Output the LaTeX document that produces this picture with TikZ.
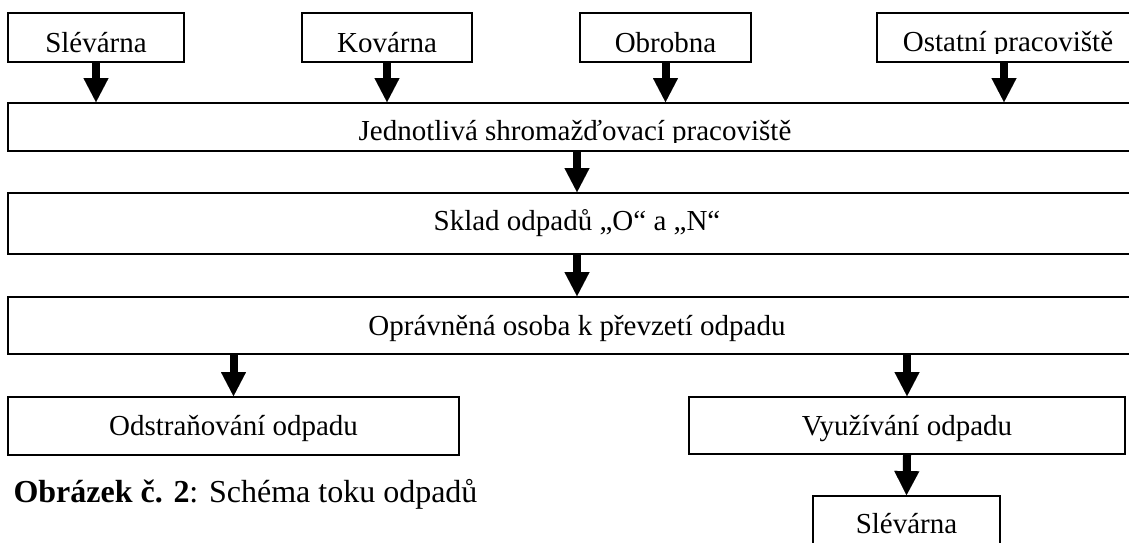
\documentclass[tikz,border=0pt]{standalone}
\usepackage{fontspec}
\setmainfont{Liberation Serif}
\usetikzlibrary{arrows.meta}
\tikzset{
	txt/.style={font=\fontsize{29}{32}\selectfont},
	box/.style={draw, line width=1.8pt, inner sep=0pt, txt, text height=20pt, text depth=1pt},
	toprow/.style={box, minimum height=49pt, text height=30pt, text depth=1pt},
	widebox/.style={box, minimum width=1138pt},
	flow/.style={line width=8pt, -{Triangle[width=25pt,length=24pt,line width=0.01pt]}},
}

\begin{document}
\begin{tikzpicture}[x=1pt,y=-1pt]
			%%%%% START %%%%%
			\clip (0,0) rectangle (1129,542);
			
			% horni rada pracovist
			\node[toprow, minimum width=176pt] (sle) at (96,37.5) {Slévárna};
			\node[toprow, minimum width=170pt] (kov) at (387,37.5) {Kovárna};
			\node[toprow, minimum width=171pt] (obr) at (665.5,37.5) {Obrobna};
			\node[toprow, minimum width=254pt] (ost) at (1004,37.5) {};
			\begin{scope}
				\clip (877,13) rectangle (1129,53.5);
				\node[txt, anchor=base] (osttxt) at (1008,51.5) {Ostatní pracoviště};
			\end{scope}
			
			% shromazdovaci pracoviste
			\node[widebox, minimum height=48pt] (jed) at (577,127) {};
			\begin{scope}
				\clip (8,103) rectangle (1146,142);
				\node[txt, anchor=base] (jedtxt) at (575,140) {Jednotlivá shromažďovací pracoviště};
			\end{scope}
			
			\node[widebox, minimum height=61pt, text depth=7pt] (skl) at (577,223.5) {Sklad odpadů „O“ a „N“};
			\node[widebox, minimum height=57pt] (opr) at (577,325.5) {Oprávněná osoba k převzetí odpadu};
			
			\node[box, minimum width=451pt, minimum height=58pt, text depth=2pt] (odstr) at (233.5,426) {Odstraňování odpadu};
			\node[box, minimum width=436pt, minimum height=57pt] (vyu) at (907,425.5) {Využívání odpadu};
			\node[box, minimum width=187pt, minimum height=60pt, text depth=6pt] (sle2) at (906.5,526) {Slévárna};
			
			% sipky
			\draw[flow] (sle.south) -- (sle.south |- jed.north);
			\draw[flow] (kov.south) -- (kov.south |- jed.north);
			\draw[flow] (obr.south) -- (obr.south |- jed.north);
			\draw[flow] (ost.south) -- (ost.south |- jed.north);
			\draw[flow] (jed.south) -- (skl.north);
			\draw[flow] (skl.south) -- (opr.north);
			\draw[flow] (odstr.north |- opr.south) -- (odstr.north);
			\draw[flow] (vyu.north |- opr.south) -- (vyu.north);
			\draw[flow] (vyu.south) -- (sle2.north);
			
			\node[anchor=base west, font=\fontsize{32}{35}\selectfont] (cap) at (10,502) {\textbf{Obrázek č. 2}: Schéma toku odpadů};
			
			%%%%% END %%%%%
\end{tikzpicture}
\end{document}
